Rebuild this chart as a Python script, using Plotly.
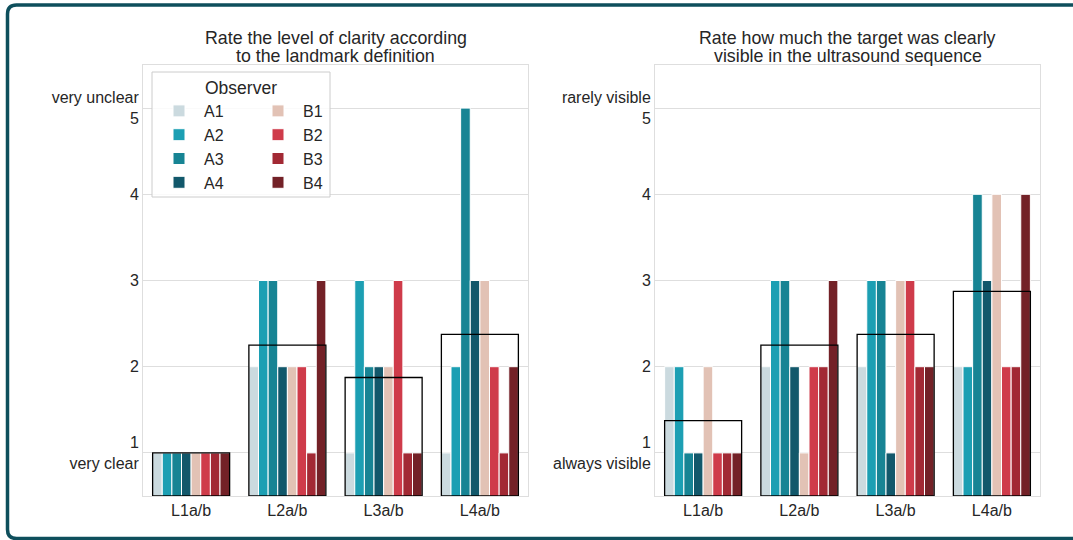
import numpy as np
import plotly.graph_objects as go

# ---------------- data ----------------
categories = ["L1a/b", "L2a/b", "L3a/b", "L4a/b"]
observers = ["A1", "A2", "A3", "A4", "B1", "B2", "B3", "B4"]
obs_colors = ["#cbdadf", "#1c9fb3", "#178494", "#12586b",
              "#e2c2b5", "#cf3b4a", "#a22934", "#732127"]

# clarity ratings (left panel), per observer over L1..L4
clarity_A1 = [1, 2, 1, 1]
clarity_A2 = [1, 3, 3, 2]
clarity_A3 = [1, 3, 2, 5]
clarity_A4 = [1, 2, 2, 3]
clarity_B1 = [1, 2, 2, 3]
clarity_B2 = [1, 2, 3, 2]
clarity_B3 = [1, 1, 1, 1]
clarity_B4 = [1, 3, 1, 2]

# visibility ratings (right panel), per observer over L1..L4
visibility_A1 = [2, 2, 2, 2]
visibility_A2 = [2, 3, 3, 2]
visibility_A3 = [1, 3, 3, 4]
visibility_A4 = [1, 2, 1, 3]
visibility_B1 = [2, 1, 3, 4]
visibility_B2 = [1, 2, 3, 2]
visibility_B3 = [1, 2, 2, 2]
visibility_B4 = [1, 3, 2, 4]

tick_vals = [1, 2, 3, 4, 5]
clarity_ticktext = ["1<br>very clear", "2", "3", "4", "very unclear<br>5"]
visibility_ticktext = ["1<br>always visible", "2", "3", "4", "rarely visible<br>5"]

left_title = ["Rate the level of clarity according", "to the landmark definition"]
right_title = ["Rate how much the target was clearly", "visible in the ultrasound sequence"]

clarity = [clarity_A1, clarity_A2, clarity_A3, clarity_A4,
           clarity_B1, clarity_B2, clarity_B3, clarity_B4]
visibility = [visibility_A1, visibility_A2, visibility_A3, visibility_A4,
              visibility_B1, visibility_B2, visibility_B3, visibility_B4]

# ---------------- layout geometry ----------------
W, H = 1073, 540
ML, MR, MT, MB = 143, 33, 65, 44
PW, PH = W - ML - MR, H - MT - MB
Y_RANGE = [0.5, 5.5]


def xp(px):
    return (px - ML) / PW


def yp(py):
    return (H - MB - py) / PH


TEXT = "#262626"
GRID = "#dedede"
FONT = "Liberation Sans, Arial, sans-serif"

fig = go.Figure()

panels = [(clarity, "x", "y"), (visibility, "x2", "y2")]
for p, (series, xa, ya) in enumerate(panels):
    for k, obs in enumerate(observers):
        fig.add_trace(go.Bar(
            x=categories, y=series[k], name=obs,
            marker=dict(color=obs_colors[k], line=dict(color="white", width=1)),
            legendgroup=obs, showlegend=(p == 0),
            legend="legend" if obs.startswith("A") else "legend2",
            xaxis=xa, yaxis=ya,
        ))
    means = np.mean(np.array(series), axis=0)
    for i, m in enumerate(means):
        fig.add_shape(type="rect", xref=xa, yref=ya,
                      x0=i - 0.4, x1=i + 0.4, y0=Y_RANGE[0], y1=float(m),
                      line=dict(color="black", width=1.3),
                      fillcolor="rgba(0,0,0,0)", layer="above")

axis_common = dict(showline=True, linecolor=GRID, linewidth=1, mirror=True,
                   ticks="", zeroline=False,
                   tickfont=dict(size=16, color=TEXT, family=FONT))

legend_common = dict(xanchor="left", yanchor="top",
                     bgcolor="rgba(0,0,0,0)", borderwidth=0, tracegroupgap=0,
                     itemwidth=40, font=dict(size=16, color=TEXT, family=FONT))

fig.update_layout(
    width=W, height=H,
    margin=dict(l=ML, r=MR, t=MT, b=MB),
    paper_bgcolor="white", plot_bgcolor="white",
    barmode="group", bargap=0.2, bargroupgap=0,
    font=dict(family=FONT, color=TEXT),
    xaxis=dict(domain=[0, xp(528)], anchor="y", showgrid=False, **axis_common),
    xaxis2=dict(domain=[xp(655), 1], anchor="y2", showgrid=False, **axis_common),
    yaxis=dict(domain=[0, 1], anchor="x", range=Y_RANGE, tickvals=tick_vals,
               ticktext=clarity_ticktext, showgrid=True, gridcolor=GRID, **axis_common),
    yaxis2=dict(domain=[0, 1], anchor="x2", range=Y_RANGE, tickvals=tick_vals,
                ticktext=visibility_ticktext, showgrid=True, gridcolor=GRID, **axis_common),
    legend=dict(x=xp(154), y=yp(94), **legend_common),
    legend2=dict(x=xp(253), y=yp(94), **legend_common),
    showlegend=True,
)

# legend frame and title
fig.add_shape(type="rect", xref="paper", yref="paper",
              x0=xp(152), x1=xp(330), y0=yp(197), y1=yp(72),
              fillcolor="rgba(255,255,255,0.85)",
              line=dict(color="#cccccc", width=1), layer="above")
fig.add_annotation(text="Observer", xref="paper", yref="paper",
                   x=xp(241), y=yp(88), showarrow=False,
                   xanchor="center", yanchor="middle",
                   font=dict(size=17.5, color=TEXT, family=FONT))

# panel titles (two lines each)
for lines, cx in [(left_title, (xp(143) + xp(528)) / 2),
                  (right_title, (xp(655) + xp(1040)) / 2)]:
    for line, cy in zip(lines, [38, 56]):
        fig.add_annotation(text=line, xref="paper", yref="paper",
                           x=cx, y=yp(cy), showarrow=False,
                           xanchor="center", yanchor="middle",
                           font=dict(size=17.8, color=TEXT, family=FONT))

# outer rounded frame
x0, x1, y0, y1, r = 7.5, 1085, 5, 538.5, 9
path = (f"M {xp(x0)},{yp(y0 + r)} "
        f"Q {xp(x0)},{yp(y0)} {xp(x0 + r)},{yp(y0)} "
        f"L {xp(x1 - r)},{yp(y0)} "
        f"Q {xp(x1)},{yp(y0)} {xp(x1)},{yp(y0 + r)} "
        f"L {xp(x1)},{yp(y1 - r)} "
        f"Q {xp(x1)},{yp(y1)} {xp(x1 - r)},{yp(y1)} "
        f"L {xp(x0 + r)},{yp(y1)} "
        f"Q {xp(x0)},{yp(y1)} {xp(x0)},{yp(y1 - r)} Z")
fig.add_shape(type="path", xref="paper", yref="paper", path=path,
              line=dict(color="#0e4f5c", width=3.5),
              fillcolor="rgba(0,0,0,0)", layer="above")

fig.write_html("out.html", config={"displayModeBar": False},
               post_script="document.body.style.margin='0';")
